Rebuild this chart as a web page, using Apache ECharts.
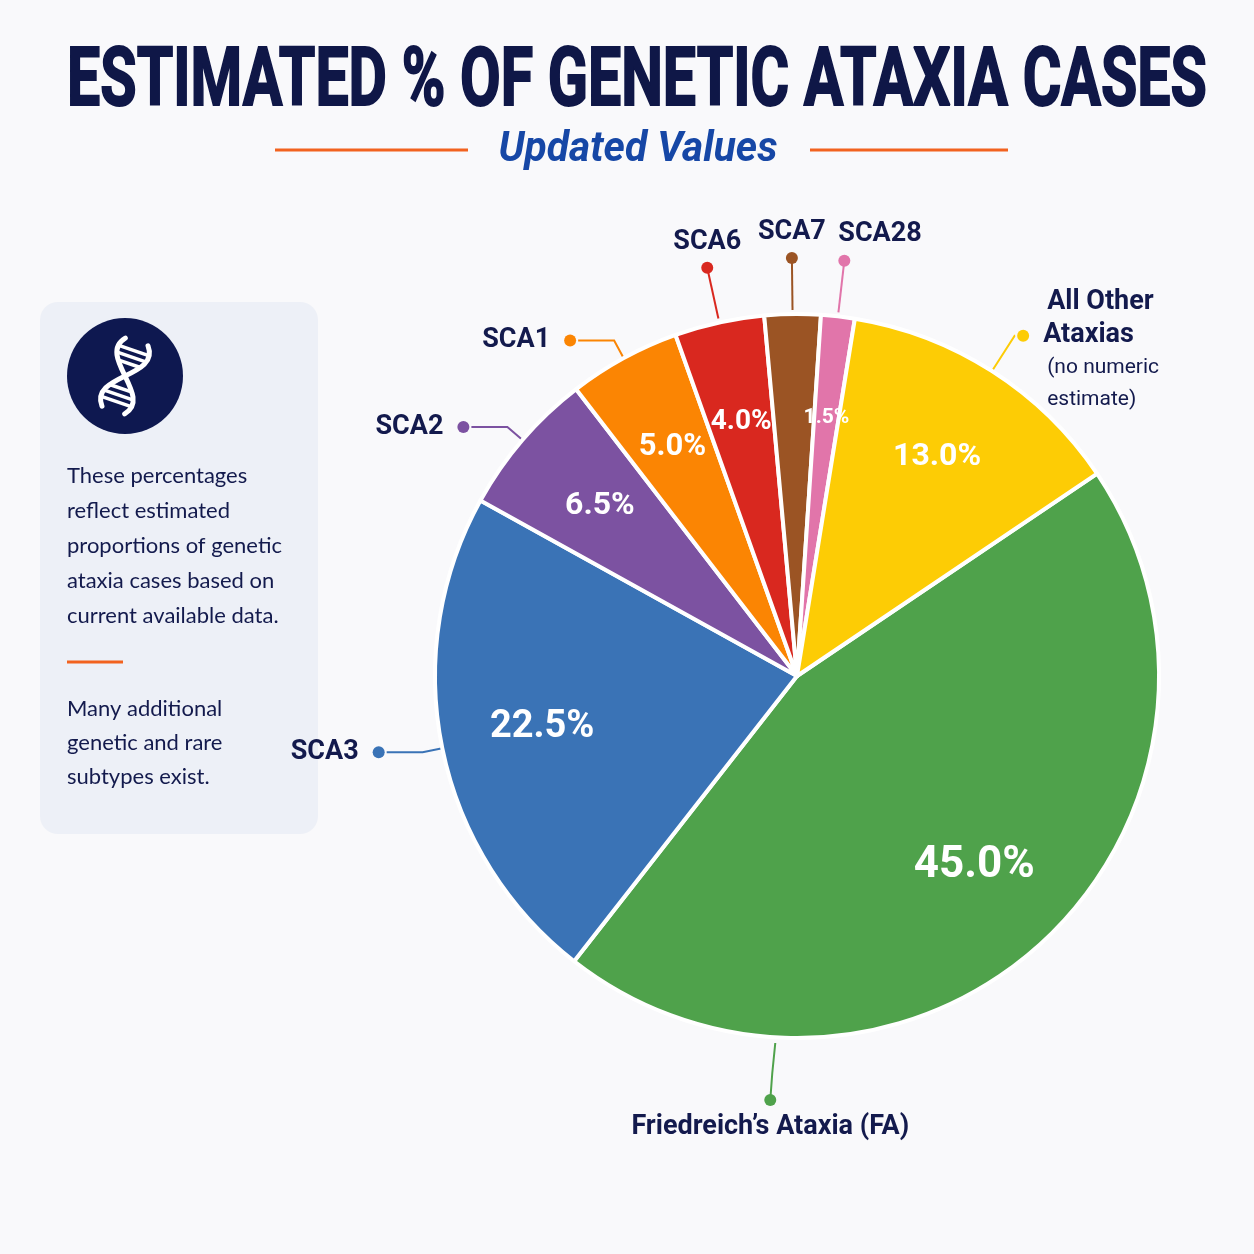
<!DOCTYPE html>
<html>
<head>
<meta charset="utf-8">
<script src="https://cdn.jsdelivr.net/npm/echarts@6/dist/echarts.min.js"></script>
<style>
    html, body { margin: 0; padding: 0; background: #f9f9fb; }
    #chart { width: 1254px; height: 1254px; }
</style>
</head>
<body>
<div id="chart"></div>
<script>
// data
var categories = ['Friedreich\u2019s Ataxia (FA)', 'SCA3', 'SCA2', 'SCA1', 'SCA6', 'SCA7', 'SCA28', 'All Other Ataxias'];
var shares = [45.0, 22.5, 6.5, 5.0, 4.0, 2.5, 1.5, 13.0];
var notes = ['', '', '', '', '', '', '', '(no numeric\nestimate)'];

// look
var colors = ['#4fa24b', '#3a73b6', '#7c52a1', '#fb8503', '#d9281f', '#9b5424', '#e175aa', '#fdcc05'];
var pctSize = [44, 38, 32, 31, 28, 23, 21, 32];
var side = ['bottom', 'left', 'left', 'left', 'top', 'top', 'top', 'right'];

var cx = 797, cy = 676, R = 362, start = 34;
var navy = '#131a4d';
var bold = 'Roboto';

(function () {
    var myChart = echarts.init(document.getElementById('chart'));

    // mid angle of every slice, from the values
    var total = shares.reduce(function (a, b) { return a + b; }, 0);
    var mids = [], acc = 0;
    shares.forEach(function (v) {
        var m = start - (acc + v / 2) / total * 360;
        mids.push(((m % 360) + 360) % 360);
        acc += v;
    });
    var rad = Math.PI / 180;
    // a top pin right of 12 o'clock gets its name to the right of the dot
    var leansRight = function (i) { return side[i] === 'top' && mids[i] < 87; };

    var richBase = function (color) {
        return {
            n: { fontFamily: bold, fontWeight: 'bold', fontSize: 27, color: navy, lineHeight: 33 },
            s: { fontFamily: 'Roboto', fontSize: 21, color: navy, lineHeight: 32 },
            d: { width: 12, height: 12, borderRadius: 6, backgroundColor: color },
            g: { width: 14 },
            sp: { width: 30 }
        };
    };

    var mainData = categories.map(function (name, i) {
        var s = side[i], txt, line = { length: 20, length2: 36 };
        var rich = richBase(colors[i]);
        if (s === 'left') {
            txt = '{n|' + name + '}{g|}{d|}';
        } else if (s === 'top') {
            txt = '{n|' + name + '}\n{d|}';
            rich.n.lineHeight = 38;
            rich.d.lineHeight = 14;
        } else if (s === 'right') {
            var w = name.split(' ');
            txt = '{sp|}{n|' + w.slice(0, 2).join(' ') + '}\n{d|}{g|}{n|' + w.slice(2).join(' ') + '}';
            notes[i].split('\n').forEach(function (l) { txt += '\n{sp|}{s|' + l + '}'; });
            line = { length: 42, length2: 0.5 };
        } else {
            txt = '{d|}\n{n|' + name + '}';
            rich.d.lineHeight = 14;
            rich.n.lineHeight = 40;
        }
        return {
            value: shares[i],
            name: name,
            itemStyle: { color: colors[i] },
            label: {
                formatter: txt,
                rich: rich,
                padding: s === 'right' ? [31, 0, 0, 0] : 0,
                distanceToLabelLine: 2
            },
            labelLine: line
        };
    });

    var white = { stroke: '#fff', lineWidth: 3.5 };
    var strand = { stroke: '#fff', fill: null, lineWidth: 5, lineCap: 'round' };

    var option = {
        backgroundColor: '#f9f9fb',
        animation: false,
        graphic: [
            {
                type: 'text', x: 637, y: 84, scaleX: 0.72,
                style: {
                    text: 'ESTIMATED % OF GENETIC ATAXIA CASES',
                    fontFamily: bold, fontWeight: 'bold', fontSize: 82,
                    fill: '#0f1747', stroke: '#0f1747', lineWidth: 2,
                    textAlign: 'center', textVerticalAlign: 'middle'
                }
            },
            {
                type: 'text', x: 638, y: 150, scaleX: 0.97,
                style: {
                    text: 'Updated Values',
                    fontFamily: bold, fontWeight: 'bold', fontStyle: 'italic', fontSize: 42,
                    fill: '#1647a6', textAlign: 'center', textVerticalAlign: 'middle'
                }
            },
            { type: 'line', shape: { x1: 275, y1: 150, x2: 468, y2: 150 }, style: { stroke: '#f2621f', lineWidth: 3 } },
            { type: 'line', shape: { x1: 810, y1: 150, x2: 1008, y2: 150 }, style: { stroke: '#f2621f', lineWidth: 3 } },

            // side panel
            { type: 'rect', shape: { x: 40, y: 302, width: 278, height: 532, r: 18 }, style: { fill: '#edf0f7' } },
            { type: 'circle', shape: { cx: 125, cy: 376, r: 58 }, style: { fill: '#0e1850' } },
            {
                type: 'group', x: 125, y: 376, rotation: -0.33,
                children: [
                    { type: 'bezierCurve', shape: { x1: -12, y1: -36, cpx1: -34, cpy1: -10, cpx2: 34, cpy2: 10, x2: 12, y2: 36 }, style: strand },
                    { type: 'bezierCurve', shape: { x1: 12, y1: -36, cpx1: 34, cpy1: -10, cpx2: -34, cpy2: 10, x2: -12, y2: 36 }, style: strand },
                    { type: 'line', shape: { x1: -15, y1: -27, x2: 15, y2: -27 }, style: white },
                    { type: 'line', shape: { x1: -15, y1: -20, x2: 15, y2: -20 }, style: white },
                    { type: 'line', shape: { x1: -11, y1: -13, x2: 11, y2: -13 }, style: white },
                    { type: 'line', shape: { x1: -11, y1: 13, x2: 11, y2: 13 }, style: white },
                    { type: 'line', shape: { x1: -15, y1: 20, x2: 15, y2: 20 }, style: white },
                    { type: 'line', shape: { x1: -15, y1: 27, x2: 15, y2: 27 }, style: white }
                ]
            },
            {
                type: 'text', x: 67, y: 458,
                style: {
                    text: 'These percentages\nreflect estimated\nproportions of genetic\nataxia cases based on\ncurrent available data.',
                    fontFamily: 'Lato', fontSize: 22, lineHeight: 35, fill: navy,
                    textAlign: 'left', textVerticalAlign: 'top'
                }
            },
            { type: 'line', shape: { x1: 67, y1: 662, x2: 123, y2: 662 }, style: { stroke: '#f2621f', lineWidth: 3 } },
            {
                type: 'text', x: 67, y: 692,
                style: {
                    text: 'Many additional\ngenetic and rare\nsubtypes exist.',
                    fontFamily: 'Lato', fontSize: 22, lineHeight: 34, fill: navy,
                    textAlign: 'left', textVerticalAlign: 'top'
                }
            }
        ],
        series: [
            {
                name: 'Cases',
                type: 'pie',
                center: [cx, cy],
                radius: R,
                startAngle: start,
                clockwise: true,
                avoidLabelOverlap: false,
                silent: true,
                itemStyle: { borderColor: '#ffffff', borderWidth: 4 },
                label: { show: true, position: 'outside' },
                labelLine: { show: true, smooth: false, minTurnAngle: 0, lineStyle: { width: 2 } },
                labelLayout: function (params) {
                    var i = params.dataIndex, s = side[i];
                    if (s === 'top') {
                        // straight pin out of the slice, name sitting above the dot
                        var m = mids[i] * rad;
                        var x0 = cx + (R + 4) * Math.cos(m), y0 = cy - (R + 4) * Math.sin(m);
                        var x1 = cx + (R + 56) * Math.cos(m), y1 = cy - (R + 56) * Math.sin(m);
                        var right = leansRight(i);
                        return {
                            x: right ? x1 - 6 : x1, y: y1 + 7,
                            align: right ? 'left' : 'center', verticalAlign: 'bottom',
                            labelLinePoints: [[x0, y0], [x1, y1], [x1, y1]]
                        };
                    }
                    if (s === 'bottom') {
                        var ax = cx - 0.06 * R;
                        return {
                            x: ax - 5, y: cy + R + 55,
                            align: 'center', verticalAlign: 'top',
                            labelLinePoints: [[ax, cy + R + 5], [ax - 3, cy + R + 35], [ax - 5, cy + R + 62]]
                        };
                    }
                },
                data: mainData
            },
            {
                name: 'Share',
                type: 'pie',
                center: [cx, cy],
                radius: [0.42 * R, R],
                startAngle: start,
                clockwise: true,
                silent: true,
                z: 3,
                itemStyle: { color: 'rgba(0,0,0,0)', borderWidth: 0 },
                label: {
                    show: true,
                    position: 'inside',
                    color: '#ffffff',
                    fontFamily: bold,
                    fontWeight: 'bold',
                    formatter: function (p) { return p.value.toFixed(1) + '%'; }
                },
                labelLine: { show: false },
                data: shares.map(function (v, i) {
                    return { value: v, name: categories[i], label: { fontSize: pctSize[i] } };
                })
            }
        ]
    };

    myChart.setOption(option);
})();
</script>
</body>
</html>
